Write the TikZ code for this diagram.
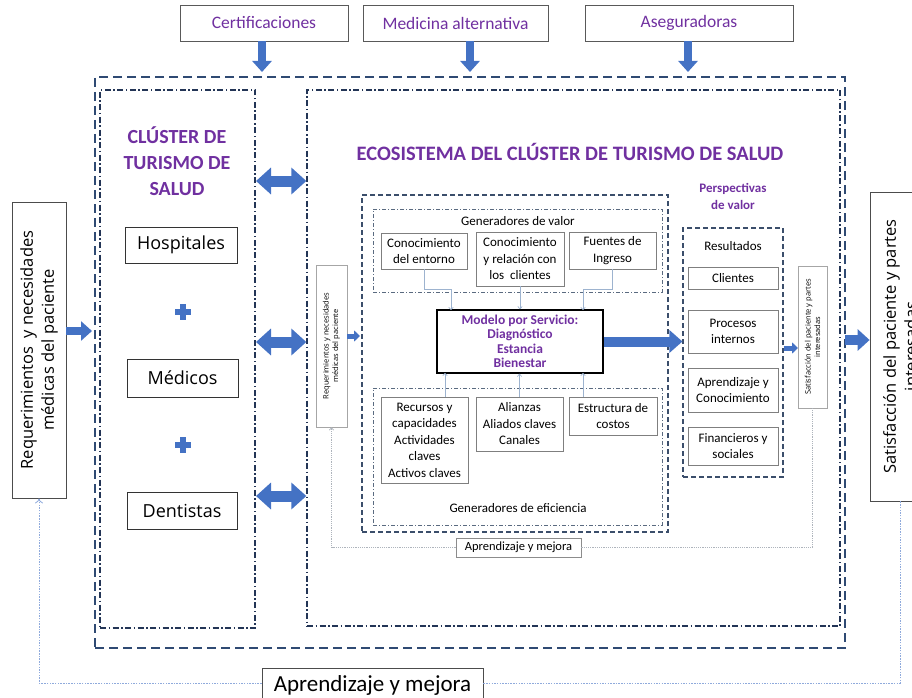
\documentclass[tikz,border=0pt]{standalone}
\usepackage{fontspec}
\setmainfont{Carlito}
\newfontfamily\osans{Open Sans}
\usetikzlibrary{arrows.meta}
\definecolor{purp}{HTML}{7030A0}
\definecolor{ablue}{HTML}{4472C4}
\definecolor{navy}{HTML}{2F4A73}
\definecolor{dkline}{HTML}{233556}
\definecolor{innerln}{HTML}{3B4E6B}
\definecolor{genln}{HTML}{5A6A80}
\definecolor{boxgray}{HTML}{7F7F7F}
\definecolor{loopblue}{HTML}{8FAADC}
\definecolor{loopgray}{HTML}{AEB4BC}
\definecolor{thinarr}{HTML}{9DB3CF}
\tikzset{
  fs/.style n args={2}{font=\fontsize{#1}{#2}\selectfont},
  bx/.style n args={2}{draw, inner sep=0pt, minimum width=#1pt, minimum height=#2pt, align=center},
  topbox/.style={draw=black!65, line width=0.8pt, text=purp, fs={17.5}{20}},
  clbox/.style={draw=black!80, line width=0.8pt, font=\osans\fontsize{18}{21}\selectfont},
  inbox/.style={draw=boxgray, line width=0.8pt, fs={13}{16.5}},
  smallrot/.style={draw=black!35, line width=0.7pt, rotate=90, font=\osans\fontsize{7.5}{9.5}\selectfont},
  bigrot/.style={draw=black!70, line width=0.8pt, rotate=90, font=\osans\fontsize{16.5}{21}\selectfont},
  outerbox/.style={draw=navy, line width=2.2pt, dash pattern=on 9pt off 5pt},
  dashdotbox/.style={draw=dkline, line width=1.3pt, dash pattern=on 6pt off 2.5pt on 1.5pt off 2.5pt},
  innerbox/.style={draw=innerln, line width=1.1pt, dash pattern=on 5pt off 3pt},
  genbox/.style={draw=genln, line width=0.8pt, dash pattern=on 4pt off 2pt on 1pt off 2pt},
  title/.style={text=purp, font=\bfseries\fontsize{20}{26}\selectfont, align=center},
  barrow/.style={draw=ablue, line width=8pt, -{Triangle[length=11pt,width=19pt]}},
  bigdbl/.style={draw=ablue, line width=11pt, {Triangle[length=15pt,width=26pt]}-{Triangle[length=15pt,width=26pt]}},
  smarrow/.style={draw=ablue, line width=5pt, -{Triangle[length=6pt,width=11pt]}},
  tharrow/.style={draw=thinarr, line width=0.7pt, -{To[length=3pt,width=5pt]}},
  bigloop/.style={draw=loopblue, line width=0.8pt, dash pattern=on 1.5pt off 1.2pt},
  smloop/.style={draw=loopgray, line width=0.7pt, dash pattern=on 1.2pt off 1pt},
  plusnode/.style={minimum size=16pt, inner sep=0pt,
    path picture={
      \fill[ablue] ([xshift=-8pt,yshift=-2.8pt]path picture bounding box.center) rectangle ([xshift=8pt,yshift=2.8pt]path picture bounding box.center);
      \fill[ablue] ([xshift=-2.8pt,yshift=-8pt]path picture bounding box.center) rectangle ([xshift=2.8pt,yshift=8pt]path picture bounding box.center);
    }},
}
\begin{document}
\begin{tikzpicture}[x=1pt,y=-1pt]
\useasboundingbox (0,0) rectangle (912,698);
\clip (0,0) rectangle (912,698);

% top boxes
\node[bx={168}{36}, topbox] (cert) at (264,23) {Certificaciones};
\node[bx={185}{36}, topbox] (med) at (455.5,23) {Medicina alternativa};
\node[bx={208}{36}, topbox] (aseg) at (689,23) {Aseguradoras};

% frames
\node[bx={750}{571}, outerbox] (outer) at (470,362.5) {};
\node[bx={155}{538}, dashdotbox] (cluster) at (177.5,359) {};
\node[bx={533}{536}, dashdotbox] (ecos) at (573.5,358) {};

\coordinate (t1) at (262,72);
\coordinate (t2) at (470,72);
\coordinate (t3) at (688,72);
\draw[barrow] (cert.south -| t1) -- (t1);
\draw[barrow] (med.south -| t2) -- (t2);
\draw[barrow] (aseg.south -| t3) -- (t3);

% cluster
\node[title] (cltitle) at (177,161) {CLÚSTER DE\\TURISMO DE\\SALUD};
\node[bx={112}{36}, clbox] (hosp) at (181,245) {Hospitales};
\node[plusnode] (plus1) at (183,312) {};
\node[bx={111}{38}, clbox] (medi) at (182.5,378) {Médicos};
\node[plusnode] (plus2) at (183,445) {};
\node[bx={110}{37}, clbox] (dent) at (182,510.5) {Dentistas};

\coordinate (d1) at (256,181);
\coordinate (d2) at (256,342);
\coordinate (d3) at (256,496);
\draw[bigdbl] (d1) -- (ecos.west |- d1);
\draw[bigdbl] (d2) -- (ecos.west |- d2);
\draw[bigdbl] (d3) -- (ecos.west |- d3);

% ecosystem
\node[title, font=\bfseries\fontsize{20.5}{26}\selectfont] (ectitle) at (570,152) {ECOSISTEMA DEL CLÚSTER DE TURISMO DE SALUD};
\node[bx={162}{31}, smallrot] (sreq) at (331.5,346) {Requerimientos y necesidades\\médicas del paciente};

\node[bx={306}{337}, innerbox] (inner) at (515,363.5) {};
\coordinate (sa) at (360,336);
\draw[smarrow] (sreq.south |- sa) -- (sa);

\node[bx={289}{83}, genbox] (gval) at (517.5,250.5) {};
\node[fs={13}{16}] (gvaltxt) at (518,221) {Generadores de valor};
\node[bx={86}{36}, inbox] (c1) at (424,251) {Conocimiento\\del entorno};
\node[bx={88}{54}, inbox] (c2) at (520,259) {Conocimiento\\y relación con\\los\ \ clientes};
\node[bx={87}{37}, inbox] (c3) at (612.5,250.5) {Fuentes de\\Ingreso};

\node[bx={166}{63}, draw=black, line width=1.6pt, text=purp, font=\bfseries\fontsize{13.5}{14.5}\selectfont] (model) at (520,341.5) {Modelo por Servicio:\\Diagnóstico\\Estancia\\Bienestar};

\node[bx={289}{137}, genbox] (geff) at (517.5,456.5) {};
\node[bx={87}{86}, inbox] (r1) at (424.5,440) {Recursos y\\capacidades\\Actividades\\claves\\Activos claves};
\node[bx={87}{54}, inbox] (r2) at (519.5,424) {Alianzas\\Aliados claves\\Canales};
\node[bx={88}{38}, inbox] (r3) at (613,416) {Estructura de\\costos};
\node[fs={13}{16}] (gefftxt) at (518,508) {Generadores de eficiencia};

\coordinate (m1) at (451,310);
\coordinate (m3) at (583,310);
\draw[tharrow] (c1.south) |- (m1 |- 0,289) -- (m1);
\draw[tharrow] (c2.south) -- (c2.south |- model.north);
\draw[tharrow] (c3.south) |- (m3 |- 0,289) -- (m3);
\coordinate (e1) at (445,373);
\coordinate (e3) at (583,373);
\draw[tharrow] (r1.north -| e1) -- (e1);
\draw[tharrow] (r2.north) -- (r2.north |- model.south);
\draw[tharrow] (r3.north -| e3) -- (e3);

% perspectives
\node[text=purp, font=\bfseries\fontsize{13}{17}\selectfont, align=center] (ptitle) at (733,196) {Perspectivas\\de valor};
\node[bx={100}{249}, innerbox] (persp) at (733,352.5) {};
\node[fs={13}{16}] (result) at (733,246) {Resultados};
\node[bx={90}{22}, inbox] (p1) at (733,278) {Clientes};
\node[bx={90}{43}, inbox] (p2) at (733,331.5) {Procesos\\internos};
\node[bx={90}{44}, inbox] (p3) at (733,390) {Aprendizaje y\\Conocimiento};
\node[bx={90}{38}, inbox] (p4) at (733,446) {Financieros y\\sociales};

\draw[barrow, line width=10pt, -{Triangle[length=13pt,width=22pt]}] (model.east) -- (persp.west |- model.east);

\node[bx={142}{29}, smallrot] (ssat) at (812.5,337) {Satisfacción del paciente y partes\\interesadas};
\coordinate (pa) at (798,348);
\draw[smarrow] (persp.east |- pa) -- (pa);

% inner loop
\node[bx={125}{19}, draw=black!45, line width=0.8pt, fs={12.5}{15}] (sapr) at (518.5,547.5) {Aprendizaje y mejora};
\draw[smloop, -{To[length=3pt,width=5pt]}] (sapr.west) -| (sreq.west);
\draw[smloop] (sapr.east) -| (ssat.west);

% outer side boxes
\node[bx={296}{54}, bigrot] (lreq) at (39,350) {Requerimientos\ \ y necesidades\\médicas del paciente};
\node[bx={309}{60}, bigrot] (rsat) at (900,346.5) {Satisfacción del paciente y partes\\interesadas};
\coordinate (la) at (92,331);
\draw[barrow] (lreq.south |- la) -- (la);
\coordinate (ra) at (845,340);
\draw[barrow, line width=10pt, -{Triangle[length=12pt,width=21pt]}] (ra) -- (rsat.north |- ra);

% outer loop
\node[bx={221}{34}, draw=black!70, line width=0.8pt, fs={23}{26}] (bapr) at (372.5,685) {Aprendizaje y mejora};
\draw[bigloop, -{To[length=5pt,width=8pt]}] (bapr.west |- 0,683) -| (lreq.west);
\draw[bigloop] (bapr.east |- 0,683) -| (rsat.west);
\end{tikzpicture}
\end{document}
